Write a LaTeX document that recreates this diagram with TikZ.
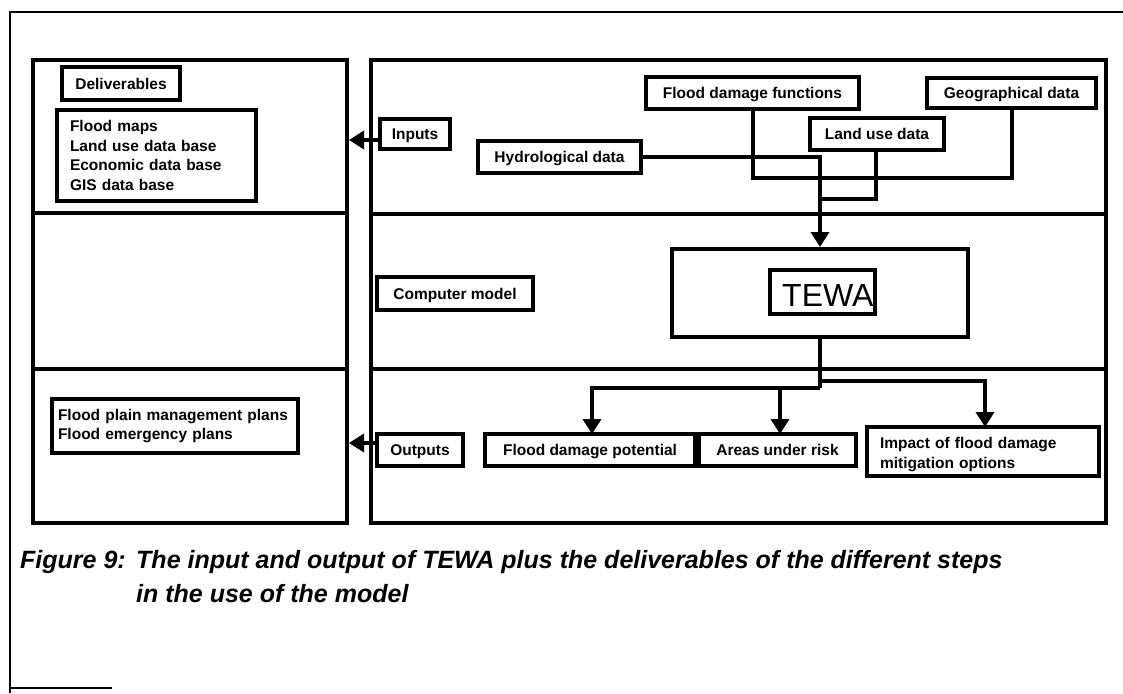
\documentclass[tikz,border=0pt]{standalone}
\usepackage{fontspec}
\setmainfont{Liberation Sans}
\usetikzlibrary{arrows.meta}
\begin{document}
\begin{tikzpicture}[x=1pt,y=-1pt,
  frame/.style={line width=1.6pt},
  panel/.style={line width=3.6pt},
  bx/.style={draw, line width=4pt, inner sep=0pt,
    font=\fontsize{15.5}{19.5}\selectfont\bfseries},
  lbl/.style={bx, text height=11pt, text depth=0pt},
  wire/.style={line width=3.6pt},
  arr/.style={wire, -{Triangle[width=18pt,length=15pt]}},
  capt/.style={inner sep=0pt, anchor=base west,
    font=\fontsize{25}{30}\selectfont\bfseries\itshape}]
\useasboundingbox (0,0) rectangle (1123,693);

% page frame
\draw[frame] (1123,12) -- (10,12) -- (10,693);
\draw[frame] (10,688) -- (112,688);

% left column: deliverables
\draw[panel] (33,60) rectangle (347,523);
\draw[panel] (33,213) -- (347,213);
\draw[panel] (33,369) -- (347,369);
\coordinate (lpin) at (349,140);
\coordinate (lpout) at (349,443);

% right column: steps of the model
\draw[panel] (371,60) rectangle (1106,523);
\draw[panel] (371,214) -- (1106,214);
\draw[panel] (371,369) -- (1106,369);

% deliverables
\node[lbl, minimum width=118pt, minimum height=33pt] (deliv) at (121,83.5) {Deliverables};
\node[bx, minimum width=199pt, minimum height=91pt, text width=173pt, align=left] (fmaps) at (156.5,155.5)
  {Flood maps\\Land use data base\\Economic data base\\GIS data base};
\node[bx, minimum width=246pt, minimum height=54pt, text width=234pt, align=left] (fplain) at (175,426)
  {Flood plain management plans\\Flood emergency plans};

% step labels
\node[lbl, minimum width=70pt, minimum height=30pt] (inputs) at (415,134) {Inputs};
\node[lbl, minimum width=156pt, minimum height=33pt] (cmodel) at (455,293.5) {Computer model};
\node[lbl, minimum width=86pt, minimum height=32pt] (outputs) at (420,450) {Outputs};

% input data
\node[lbl, minimum width=163pt, minimum height=32pt] (hydro) at (559.5,157) {Hydrological data};
\node[lbl, minimum width=213pt, minimum height=32pt] (fdf) at (752.5,93) {Flood damage functions};
\node[lbl, minimum width=134pt, minimum height=32pt] (landuse) at (877,134) {Land use data};
\node[lbl, minimum width=169pt, minimum height=30pt] (geo) at (1011.5,92.5) {Geographical data};

% model
\node[bx, minimum width=296pt, minimum height=88pt] (tewa) at (820,293) {};
\node[bx, minimum width=105pt, minimum height=44pt] (tewain) at (822.5,292) {};
\node[inner sep=0pt, anchor=base west, font=\fontsize{32}{32}\selectfont] (tewatxt) at (782,306) {TEWA};

% outputs
\node[lbl, minimum width=210pt, minimum height=32pt] (fdp) at (590,450) {Flood damage potential};
\node[lbl, minimum width=157pt, minimum height=32pt] (areas) at (777.5,450) {Areas under risk};
\node[bx, minimum width=232pt, minimum height=49pt, text width=206pt, align=left] (impact) at (983,451.5)
  {\rule{0pt}{17pt}Impact of flood damage\\mitigation options};

% connectors into the model
\coordinate (j1) at (820,157);
\coordinate (j2) at (820,199);
\draw[arr] ([yshift=-6pt]inputs.west) -- (lpin);
\draw[wire] (753,108) -- (753,178) -- (1012,178) -- (1012,106);
\draw[wire] (876,150) -- (876,199) -- (j2);
\draw[arr] (hydro.east) -- (j1) -- (tewa.north);

% connectors out of the model
\coordinate (k1) at (820,388);
\coordinate (k2) at (820,381);
\draw[wire] (tewa.south) -- (k1);
\draw[arr] (k1) -- (592,388) -- (592,434);
\draw[arr] (780,388) -- (780,434);
\draw[arr] (k2) -- (985,381) -- (985,427);
\draw[arr] ([yshift=7pt]outputs.west) -- (lpout);

% caption
\node[capt] (fig) at (20,568) {Figure 9:};
\node[capt] (cap1) at (136,568) {The input and output of TEWA plus the deliverables of the different steps};
\node[capt] (cap2) at (136,602) {in the use of the model};
\end{tikzpicture}
\end{document}
